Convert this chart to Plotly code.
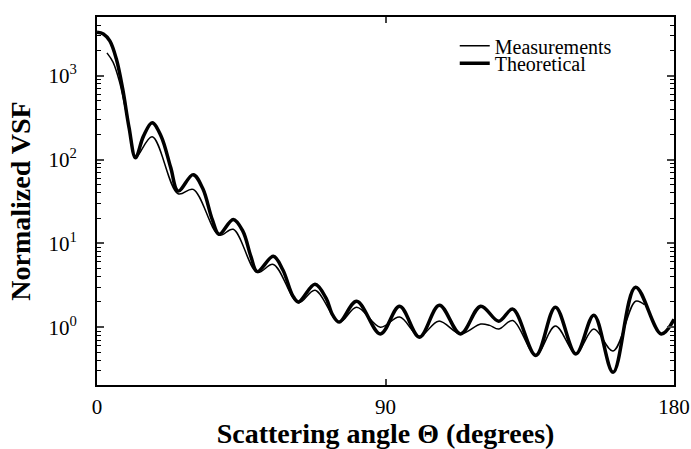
import plotly.graph_objects as go

theta_theory = [0, 2, 4, 6, 8, 10, 12, 14.5, 17.2, 20, 23, 25.3, 30, 33, 36, 38.1, 42.5, 45.5, 48, 50, 55,
                58, 61, 62.8, 68, 71.5, 73.5, 75.6, 81, 88.4, 94.4, 100.6, 106.8, 113.4, 119.7, 125.3,
                129.7, 136.9, 143, 149.4, 155, 161, 168, 176, 180]
vsf_theory = [3300, 3150, 2600, 1600, 700, 240, 105, 190, 275, 190, 80, 42, 66, 45, 19, 12.8, 19.3, 14, 7, 4.6, 7.0,
              4.8, 2.4, 2.0, 3.25, 2.2, 1.4, 1.15, 2.04, 0.83, 1.78, 0.76, 1.83, 0.83, 1.78, 1.18,
              1.64, 0.46, 1.73, 0.48, 1.39, 0.29, 3.0, 0.83, 1.24]

theta_meas = [3.1, 5, 7, 9, 10.5, 12, 17.2, 25.3, 30, 38.1, 42.5, 50, 55, 62.8, 68, 75.6, 81, 88.4, 94.4,
              100.6, 106.6, 113.4, 119.7, 122.5, 125.3, 129.7, 136.9, 143, 149.4, 155, 161, 168, 170.8]
vsf_meas = [1870, 1450, 850, 380, 190, 105, 187, 39, 44, 12.5, 14.7, 4.5, 5.6, 1.95, 2.75, 1.15, 1.73, 1.0, 1.32,
            0.78, 1.18, 0.83, 1.09, 1.05, 0.95, 1.2, 0.47, 1.03, 0.49, 0.95, 0.52, 2.04, 1.85]

y_tickvals = [1, 10, 100, 1000]
y_ticktext = ["10<sup>0</sup>", "10<sup>1</sup>", "10<sup>2</sup>", "10<sup>3</sup>"]
y_minorvals = [m * 10 ** k for k in range(-1, 4) for m in range(2, 10)]
x_tickvals = [0, 90, 180]

fig = go.Figure()
fig.add_trace(go.Scatter(x=theta_meas, y=vsf_meas, mode="lines", name="Measurements", legend="legend",
                         line=dict(color="black", width=1.5, shape="spline", smoothing=1.0)))
fig.add_trace(go.Scatter(x=theta_theory, y=vsf_theory, mode="lines", name="Theoretical", legend="legend2",
                         line=dict(color="black", width=3.5, shape="spline", smoothing=1.0)))

font = "Liberation Serif, Times New Roman, serif"
leg_common = dict(xanchor="left", yanchor="middle", bgcolor="rgba(0,0,0,0)",
                  font=dict(size=20, family=font), itemwidth=30)
fig.update_layout(
    width=691, height=449,
    margin=dict(l=97, r=17, t=17, b=64),
    plot_bgcolor="white", paper_bgcolor="white",
    font=dict(family=font, color="black", size=21),
    showlegend=True,
    legend=dict(x=0.62, y=0.922, **leg_common),
    legend2=dict(x=0.62, y=0.874, **leg_common),
)
fig.update_xaxes(range=[0, 180], tickvals=x_tickvals, ticks="inside", ticklen=6, tickwidth=1.5,
                 showline=True, linecolor="black", linewidth=2, mirror="ticks", showgrid=False, zeroline=False,
                 automargin=False, tickfont=dict(size=21, family=font), ticklabelstandoff=2,
                 title=dict(text="<b>Scattering angle Θ (degrees)</b>", font=dict(size=28, family=font), standoff=9))
fig.update_yaxes(type="log", range=[-0.69, 3.70], tickvals=y_tickvals, ticktext=y_ticktext,
                 ticks="inside", ticklen=7, tickwidth=1.5,
                 minor=dict(ticks="inside", ticklen=4, tickwidth=1, tickcolor="black", showgrid=False,
                            tickvals=y_minorvals),
                 showline=True, linecolor="black", linewidth=2, mirror="ticks", showgrid=False, zeroline=False,
                 automargin=False, tickfont=dict(size=21, family=font), ticklabelstandoff=14,
                 title=dict(text="<b>Normalized VSF</b>", font=dict(size=28, family=font), standoff=10))

fig.write_html("out.html", config={"displayModeBar": False},
               post_script="document.body.style.margin='0px';")
